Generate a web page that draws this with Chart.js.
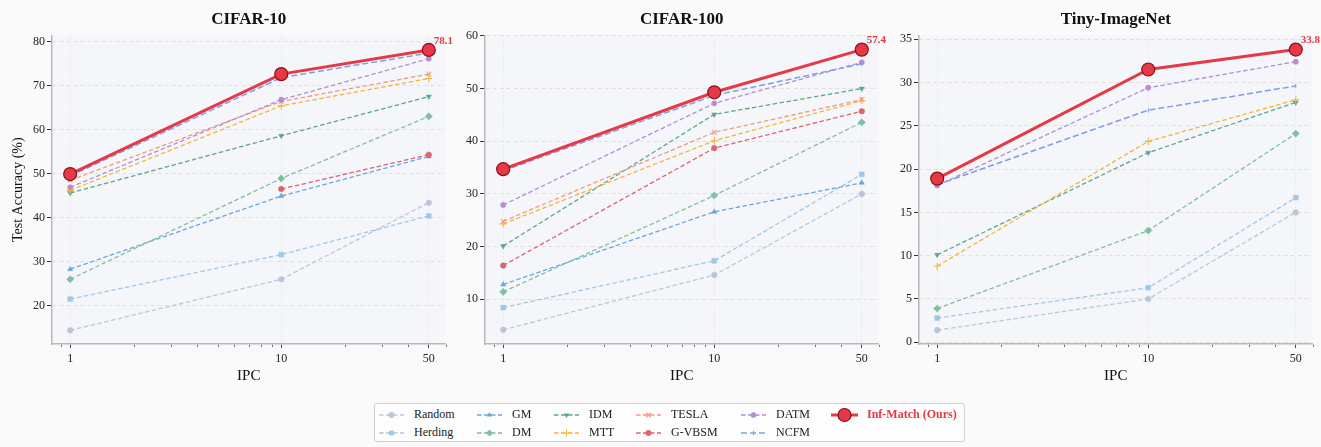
<!DOCTYPE html>
<html><head><meta charset="utf-8">
<script src="https://cdn.jsdelivr.net/npm/chart.js@4.4.1/dist/chart.umd.min.js"></script>
<style>
html,body{margin:0;padding:0;background:#fafafa;width:1321px;height:447px;overflow:hidden;font-family:"Liberation Serif","Times New Roman",serif;}
canvas.pc{position:absolute;top:0;}
#legend{position:absolute;left:374px;top:403px;width:591px;height:39px;border:1px solid #d0d0d0;border-radius:3px;background:#fdfdfd;box-sizing:border-box;}
.lt{position:absolute;font-size:12px;color:#222;white-space:nowrap;line-height:14px;}
.ls{position:absolute;}
</style></head><body>
<canvas id="c0" class="pc" width="460" height="400" style="left:0px"></canvas>
<canvas id="c1" class="pc" width="460" height="400" style="left:433px"></canvas>
<canvas id="c2" class="pc" width="460" height="400" style="left:867px"></canvas>
<div id="legend"></div>
<script>
// ---------------- data ----------------
const IPC = [1, 10, 50];
const X_TICKS = [1, 10, 50];
const X_MINOR = [0.9, 2, 3, 4, 5, 6, 7, 8, 9, 20, 30, 40, 60];
const METHODS = ['Random','Herding','GM','DM','IDM','MTT','TESLA','G-VBSM','DATM','NCFM','Inf-Match (Ours)'];
const TITLES = ['CIFAR-10','CIFAR-100','Tiny-ImageNet'];

const C10_RANDOM  = [14.4, 26.0, 43.4];
const C10_HERDING = [21.5, 31.6, 40.4];
const C10_GM      = [28.3, 44.9, 53.9];
const C10_DM      = [26.0, 48.9, 63.0];
const C10_IDM     = [45.6, 58.6, 67.5];
const C10_MTT     = [46.2, 65.4, 71.6];
const C10_TESLA   = [48.5, 66.4, 72.6];
const C10_GVBSM   = [null, 46.5, 54.3];
const C10_DATM    = [46.9, 66.8, 76.1];
const C10_NCFM    = [49.5, 71.8, 77.4];
const C10_OURS    = [49.9, 72.6, 78.1];
const C10_TICKS   = [20, 30, 40, 50, 60, 70, 80];

const C100_RANDOM  = [4.2, 14.6, 30.0];
const C100_HERDING = [8.4, 17.3, 33.7];
const C100_GM      = [12.8, 26.6, 32.1];
const C100_DM      = [11.4, 29.7, 43.6];
const C100_IDM     = [20.1, 45.1, 50.0];
const C100_MTT     = [24.3, 40.1, 47.7];
const C100_TESLA   = [24.8, 41.7, 47.9];
const C100_GVBSM   = [16.4, 38.7, 45.7];
const C100_DATM    = [27.9, 47.2, 55.0];
const C100_NCFM    = [34.4, 48.7, 54.7];
const C100_OURS    = [34.7, 49.3, 57.4];
const C100_TICKS   = [10, 20, 30, 40, 50, 60];

const TINY_RANDOM  = [1.4, 5.0, 15.0];
const TINY_HERDING = [2.8, 6.3, 16.7];
const TINY_GM      = [null, null, null];
const TINY_DM      = [3.9, 12.9, 24.1];
const TINY_IDM     = [10.1, 21.9, 27.7];
const TINY_MTT     = [8.8, 23.2, 28.0];
const TINY_TESLA   = [null, null, null];
const TINY_GVBSM   = [null, null, null];
const TINY_DATM    = [18.1, 29.4, 32.4];
const TINY_NCFM    = [18.2, 26.8, 29.6];
const TINY_OURS    = [18.9, 31.5, 33.8];
const TINY_TICKS   = [0, 5, 10, 15, 20, 25, 30, 35];

// ---------------- styles ----------------
const SERIF = "'Liberation Serif','Times New Roman',serif";
Chart.defaults.font.family = SERIF;
Chart.defaults.color = '#222';

const STYLE = {
  'Random':  {c:'rgba(176,192,212,0.85)', p:'circle',   r:2.8, bw:0.5},
  'Herding': {c:'rgba(150,196,228,0.9)',  p:'rect',     r:3.4, bw:0.5},
  'GM':      {c:'#6aa6de', p:'triangle', r:3.0, bw:0.5},
  'DM':      {c:'#80bfa0', p:'rectRot',  r:3.6, bw:0.5},
  'IDM':     {c:'#5ea68a', p:'triangle', r:3.0, bw:0.5, rot:180},
  'MTT':     {c:'#f4b53c', p:'cross',    r:3.6, bw:1.1},
  'TESLA':   {c:'#ef9a80', p:'crossRot', r:3.2, bw:1.1},
  'G-VBSM':  {c:'#d9666e', p:'circle',   r:2.8, bw:0.5},
  'DATM':    {c:'#b48dd2', p:'circle',   r:2.6, bw:0.5},
  'NCFM':    {c:'#7d9ee6', p:'line',     r:2.2, bw:1.0, rot:90, dash:[6,3], w:1.5},
  'Inf-Match (Ours)': {c:'#e63946', p:'circle', r:6.5, bw:1.2, w:3, dash:[], bc:'#8b0f1c'}
};

function ds(name, vals, idx){
  const s = STYLE[name];
  const ours = name.startsWith('Inf');
  return {
    label:name,
    data: IPC.map((x,i)=>({x:x, y:vals[i]})),
    borderColor:s.c, backgroundColor:s.c,
    borderWidth: s.w || 1.3,
    borderDash: s.dash || [4.5,2.5],
    pointStyle:s.p, pointRadius:s.r, pointRotation:s.rot||0,
    pointBackgroundColor:s.c, pointBorderColor:s.bc||s.c, pointBorderWidth:s.bw,
    pointHoverRadius:s.r,
    order: ours ? 0 : 100 - idx,
    spanGaps:false, fill:false, tension:0
  };
}

const decor = {
  id:'decor',
  beforeDraw(chart){
    const {ctx, chartArea:a} = chart;
    ctx.save(); ctx.fillStyle = '#f5f6fa';
    ctx.fillRect(a.left, a.top, a.right-a.left, a.bottom-a.top);
    ctx.restore();
  },
  afterDraw(chart, args, opts){
    const {ctx, chartArea:a} = chart;
    const xs = chart.scales.x, ys = chart.scales.y;
    ctx.save();
    ctx.strokeStyle = '#555'; ctx.lineWidth = 0.8;
    X_MINOR.forEach(v=>{
      const px = Math.round(xs.getPixelForValue(v)) + 0.5;
      ctx.beginPath(); ctx.moveTo(px, a.bottom + 0.75); ctx.lineTo(px, a.bottom + 3); ctx.stroke();
    });
    const ours = opts && opts.ours;
    if (ours && ours.length){
      const last = ours[ours.length-1];
      const x = xs.getPixelForValue(IPC[IPC.length-1]) + 5;
      const y = ys.getPixelForValue(last) - 9;
      ctx.font = 'bold 11px ' + SERIF; ctx.fillStyle = '#e63946';
      ctx.textAlign = 'left'; ctx.textBaseline = 'middle';
      ctx.fillText(last.toFixed(1), x, y);
    }
    ctx.restore();
  }
};

function panel(id, title, series, yMin, yMax, yTicks, yTitle){
  return new Chart(document.getElementById(id), {
    type:'line',
    data:{ datasets: METHODS.map((m,i)=>ds(m, series[i], i)) },
    options:{
      responsive:false, animation:false, devicePixelRatio:1,
      layout:{padding:{left:0, right:14.5, top:0, bottom:0}},
      plugins:{
        legend:{display:false}, tooltip:{enabled:false},
        decor:{ours: series[series.length-1]},
        title:{display:true, text:title, fullSize:false, color:'#111',
               font:{size:17, weight:'bold', family:SERIF}, padding:{top:9, bottom:6}}
      },
      scales:{
        x:{
          type:'logarithmic', min:0.82, max:60,
          afterBuildTicks: s=>{ s.ticks = X_TICKS.map(v=>({value:v})); },
          afterFit: s=>{ s.height = 56; },
          ticks:{callback:(v)=>String(v), font:{size:12}, color:'#222', padding:4, maxRotation:0, autoSkip:false},
          grid:{color:'#e1e2e8', lineWidth:0.8, tickLength:4, tickColor:'#444', tickWidth:1},
          border:{display:true, color:'#b8b8b8', width:1.5, dash:[1.5,2]},
          title:{display:true, text:'IPC', font:{size:15}, color:'#111', padding:{top:4, bottom:15}}
        },
        y:{
          type:'linear', min:yMin, max:yMax,
          afterBuildTicks: s=>{ s.ticks = yTicks.map(v=>({value:v})); },
          afterFit: s=>{ s.width = 52; },
          ticks:{font:{size:12}, color:'#222', padding:2},
          grid:{color:'#dadada', lineWidth:0.8, tickLength:5, tickColor:'#333', tickWidth:1},
          border:{display:true, color:'#b8b8b8', width:1.5, dash:[4,3]},
          title:{display:!!yTitle, text:yTitle||'', font:{size:14}, color:'#111', padding:{top:10, bottom:0}}
        }
      }
    },
    plugins:[decor]
  });
}

panel('c0', TITLES[0], [C10_RANDOM,C10_HERDING,C10_GM,C10_DM,C10_IDM,C10_MTT,C10_TESLA,C10_GVBSM,C10_DATM,C10_NCFM,C10_OURS], 11.3, 81.4, C10_TICKS, 'Test Accuracy (%)');
panel('c1', TITLES[1], [C100_RANDOM,C100_HERDING,C100_GM,C100_DM,C100_IDM,C100_MTT,C100_TESLA,C100_GVBSM,C100_DATM,C100_NCFM,C100_OURS], 1.5, 60.1, C100_TICKS, '');
panel('c2', TITLES[2], [TINY_RANDOM,TINY_HERDING,TINY_GM,TINY_DM,TINY_IDM,TINY_MTT,TINY_TESLA,TINY_GVBSM,TINY_DATM,TINY_NCFM,TINY_OURS], -0.2, 35.44, TINY_TICKS, '');

// ---------------- legend ----------------
function markerSVG(s, cx, cy){
  const r = s.r, c = s.c;
  switch(s.p){
    case 'circle': return `<circle cx="${cx}" cy="${cy}" r="${r}" fill="${c}" stroke="${s.bc||c}" stroke-width="${s.bw}"/>`;
    case 'rect': { const h = r*0.7071; return `<rect x="${cx-h}" y="${cy-h}" width="${2*h}" height="${2*h}" fill="${c}"/>`; }
    case 'rectRot': return `<polygon points="${cx},${cy-r} ${cx+r},${cy} ${cx},${cy+r} ${cx-r},${cy}" fill="${c}"/>`;
    case 'triangle': {
      const sgn = s.rot===180 ? -1 : 1;
      return `<polygon points="${cx},${cy-sgn*r} ${cx+r*0.87},${cy+sgn*r*0.5} ${cx-r*0.87},${cy+sgn*r*0.5}" fill="${c}"/>`;
    }
    case 'cross': return `<path d="M${cx-r},${cy}H${cx+r}M${cx},${cy-r}V${cy+r}" stroke="${c}" stroke-width="${s.bw}"/>`;
    case 'crossRot': { const h=r*0.7071; return `<path d="M${cx-h},${cy-h}L${cx+h},${cy+h}M${cx-h},${cy+h}L${cx+h},${cy-h}" stroke="${c}" stroke-width="${s.bw}"/>`; }
    case 'line': return `<path d="M${cx},${cy-r}V${cy+r}" stroke="${c}" stroke-width="${s.bw}"/>`;
  }
  return '';
}
const LEG_COL_TEXT = [413, 511, 588, 670, 775, 866];
const LEG_ROW_Y = [413.5, 431.5];
const leg = document.getElementById('legend');
const L0 = 374, T0 = 403;
METHODS.forEach((m,i)=>{
  const col = Math.floor(i/2), row = i%2;
  const s = STYLE[m];
  const ours = m.startsWith('Inf');
  const tx = LEG_COL_TEXT[col] - L0;
  const cy = LEG_ROW_Y[row] - T0;
  const sw = ours ? 27 : 25;
  const sx = tx - (ours ? 36 : 35);
  const dash = (s.dash || [4.5,2.5]).join(',');
  const svg = `<svg class="ls" style="left:${sx}px;top:${cy-9}px" width="${sw}" height="18" viewBox="0 0 ${sw} 18">
    <line x1="0" y1="9" x2="${sw}" y2="9" stroke="${s.c}" stroke-width="${s.w||1.3}" ${dash?`stroke-dasharray="${dash}"`:''}/>
    ${markerSVG(s, sw/2, 9)}</svg>`;
  leg.insertAdjacentHTML('beforeend', svg);
  const t = document.createElement('div');
  t.className = 'lt'; t.textContent = m;
  t.style.left = tx + 'px'; t.style.top = (cy - 7 - 1) + 'px';
  if (ours){ t.style.fontWeight = 'bold'; t.style.color = '#e63946'; }
  leg.appendChild(t);
});
</script>
</body></html>
